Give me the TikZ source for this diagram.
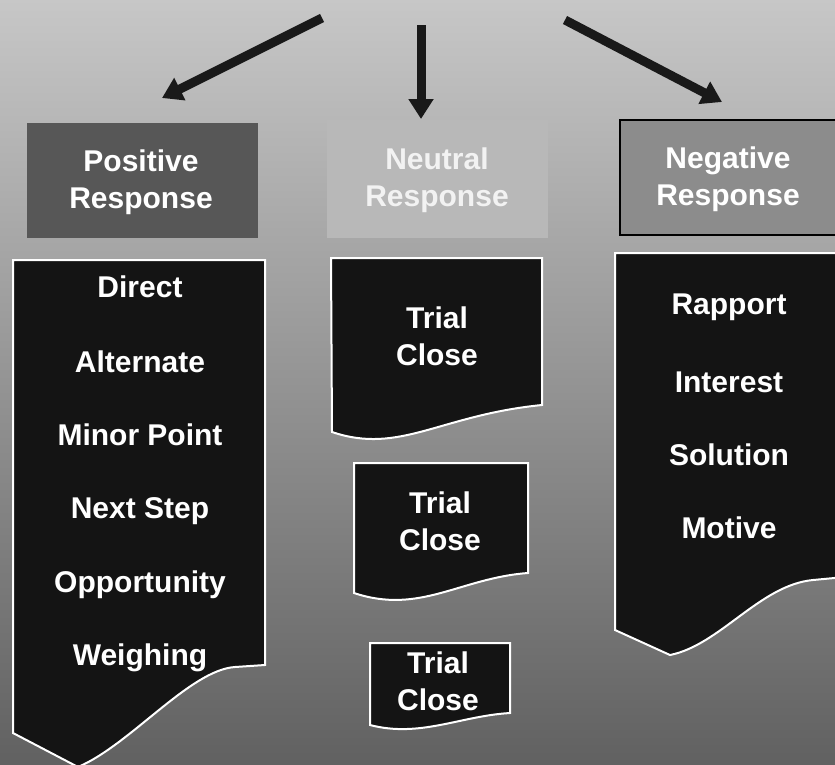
\documentclass[tikz,border=0pt]{standalone}
\usepackage{fontspec}
\setmainfont{Liberation Sans}
\usetikzlibrary{arrows.meta}
\begin{document}
\begin{tikzpicture}[x=1pt,y=-1pt,
  lbl/.style={text=white,font=\fontsize{30}{37}\selectfont\bfseries,align=center,inner sep=0pt},
  docbox/.style={fill=black!92,draw=white,line width=2pt},
  arr/.style={line width=9pt,draw=black!90,-{Triangle[width=24pt,length=20pt]}}]
\useasboundingbox (0,0) rectangle (835,764);
\clip (0,0) rectangle (835,764);
\shade[top color=black!22,middle color=black!42,bottom color=black!62] (0,0) rectangle (835,764);
% header boxes
\node[fill=black!66,minimum width=231pt,minimum height=115pt,inner sep=0pt] (posbox) at (142.5,180.5) {};
\node[fill=black!28,minimum width=221pt,minimum height=118pt,inner sep=0pt] (neubox) at (437.5,179) {};
\node[fill=black!45,draw=black,line width=1.5pt,minimum width=222pt,minimum height=115pt,inner sep=0pt] (negbox) at (731,177.5) {};
% document shapes
\path[docbox] (13,260) -- (265,260) -- (265,665) -- (235,667)
  .. controls (190,670) and (130,745) .. (78,767) -- (13,733) -- cycle;
\path[docbox] (615,253) -- (845,253) -- (845,577) -- (813,580)
  .. controls (760,585) and (720,645) .. (670,655) -- (615,630) -- cycle;
\path[docbox] (331,258) -- (542,258) -- (542,405)
  .. controls (440,415) and (400,455) .. (332,432) -- cycle;
\path[docbox] (354,463) -- (528,463) -- (528,573)
  .. controls (460,578) and (420,615) .. (354,593) -- cycle;
\path[docbox] (370,643) -- (510,643) -- (510,713)
  .. controls (460,716) and (420,738) .. (370,725) -- cycle;
% header texts
\node[lbl] (pos) at (141,182) {Positive\\Response};
\node[lbl,text=black!5] (neu) at (437,180) {Neutral\\Response};
\node[lbl] (neg) at (728,179) {Negative\\Response};
% left items
\node[lbl] (l1) at (140,287) {Direct};
\node[lbl] (l2) at (140,362) {Alternate};
\node[lbl] (l3) at (140,435) {Minor Point};
\node[lbl] (l4) at (140,511) {Next Step};
\node[lbl] (l5) at (140,585) {Opportunity};
\node[lbl] (l6) at (140,658) {Weighing};
% middle items
\node[lbl] (t1) at (437,336) {Trial\\Close};
\node[lbl] (t2) at (440,521) {Trial\\Close};
\node[lbl] (t3) at (438,681) {Trial\\Close};
% right items
\node[lbl] (r1) at (729,307) {Rapport};
\node[lbl] (r2) at (729,382) {Interest};
\node[lbl] (r3) at (729,455) {Solution};
\node[lbl] (r4) at (729,528) {Motive};
% arrows
\coordinate (sL) at (322,18);
\coordinate (eL) at (162,98);
\coordinate (sM) at (421,25);
\coordinate (eM) at (421,119);
\coordinate (sR) at (565,20);
\coordinate (eR) at (722,102);
\draw[arr] (sL) -- (eL);
\draw[arr] (sM) -- (eM);
\draw[arr] (sR) -- (eR);
\end{tikzpicture}
\end{document}
